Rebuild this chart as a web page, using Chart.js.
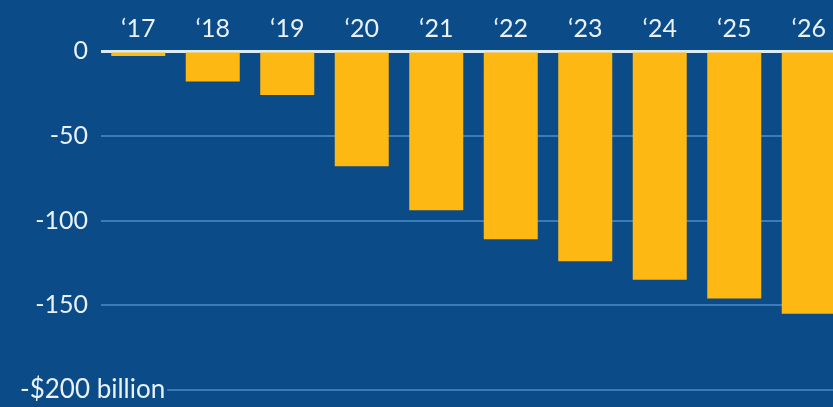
<!DOCTYPE html>
<html>
<head>
<meta charset="utf-8">
<script src="https://cdn.jsdelivr.net/npm/chart.js@4/dist/chart.umd.min.js"></script>
<style>
  html, body { margin: 0; padding: 0; background: #0b4b87; overflow: hidden; }
  #wrap { position: relative; width: 846px; height: 407px; }
</style>
</head>
<body>
<div id="wrap"><canvas id="c"></canvas></div>
<script>
const years = ['\u201817', '\u201818', '\u201819', '\u201820', '\u201821', '\u201822', '\u201823', '\u201824', '\u201825', '\u201826'];
const values = [-3, -18, -26, -68, -94, -111, -124, -135, -146, -155];
const yTicks = [0, -50, -100, -150, -200];
const bottomLabel = '-$200 billion';

const BG = '#0b4b87';
const TEXT = '#e9f1fa';
const FONT = { family: 'Lato', size: 25 };

function noPad(s) { s.paddingTop = 0; s.paddingBottom = 0; }

new Chart(document.getElementById('c'), {
  type: 'bar',
  data: {
    labels: years,
    datasets: [{
      data: values,
      backgroundColor: '#fdb813',
      borderWidth: 0,
      categoryPercentage: 1,
      barPercentage: 0.725
    }]
  },
  options: {
    responsive: true,
    maintainAspectRatio: false,
    animation: false,
    devicePixelRatio: 1,
    layout: { padding: { left: 0, right: 0, top: 0, bottom: 17 } },
    plugins: { legend: { display: false }, tooltip: { enabled: false } },
    scales: {
      x: {
        position: 'top',
        grid: { display: false, drawTicks: false },
        border: { display: false },
        ticks: { color: TEXT, font: FONT, padding: 7, maxRotation: 0, autoSkip: false },
        afterFit: s => { s.height = 51; s.paddingLeft = 0; s.paddingRight = 0; }
      },
      y: {
        min: -200, max: 0,
        weight: 1,
        afterBuildTicks: s => { s.ticks = yTicks.map(v => ({ value: v })); },
        grid: {
          drawTicks: false,
          color: c => c.tick && c.tick.value === 0 ? '#dcebf8' : '#3b7abb',
          lineWidth: c => c.tick && c.tick.value === 0 ? 3 : 2
        },
        border: { display: false },
        ticks: {
          color: TEXT, font: FONT, padding: 13,
          callback: v => (v === -200 ? '' : String(v))
        },
        afterFit: s => { s.width = 101; noPad(s); }
      },
      yLbl: {
        position: 'left',
        weight: 10,
        min: -200, max: 0,
        afterBuildTicks: s => { s.ticks = yTicks.map(v => ({ value: v })); },
        grid: { display: false, drawTicks: false },
        border: { display: false },
        ticks: {
          mirror: true,
          z: 1,
          padding: 20,
          color: TEXT, font: { family: 'Lato', size: 26 },
          showLabelBackdrop: true,
          backdropColor: BG,
          backdropPadding: { top: 0, bottom: 0, left: 0, right: 2 },
          callback: v => (v === -200 ? bottomLabel : null)
        },
        afterFit: s => { s.width = 0; noPad(s); }
      }
    }
  }
});
</script>
</body>
</html>
